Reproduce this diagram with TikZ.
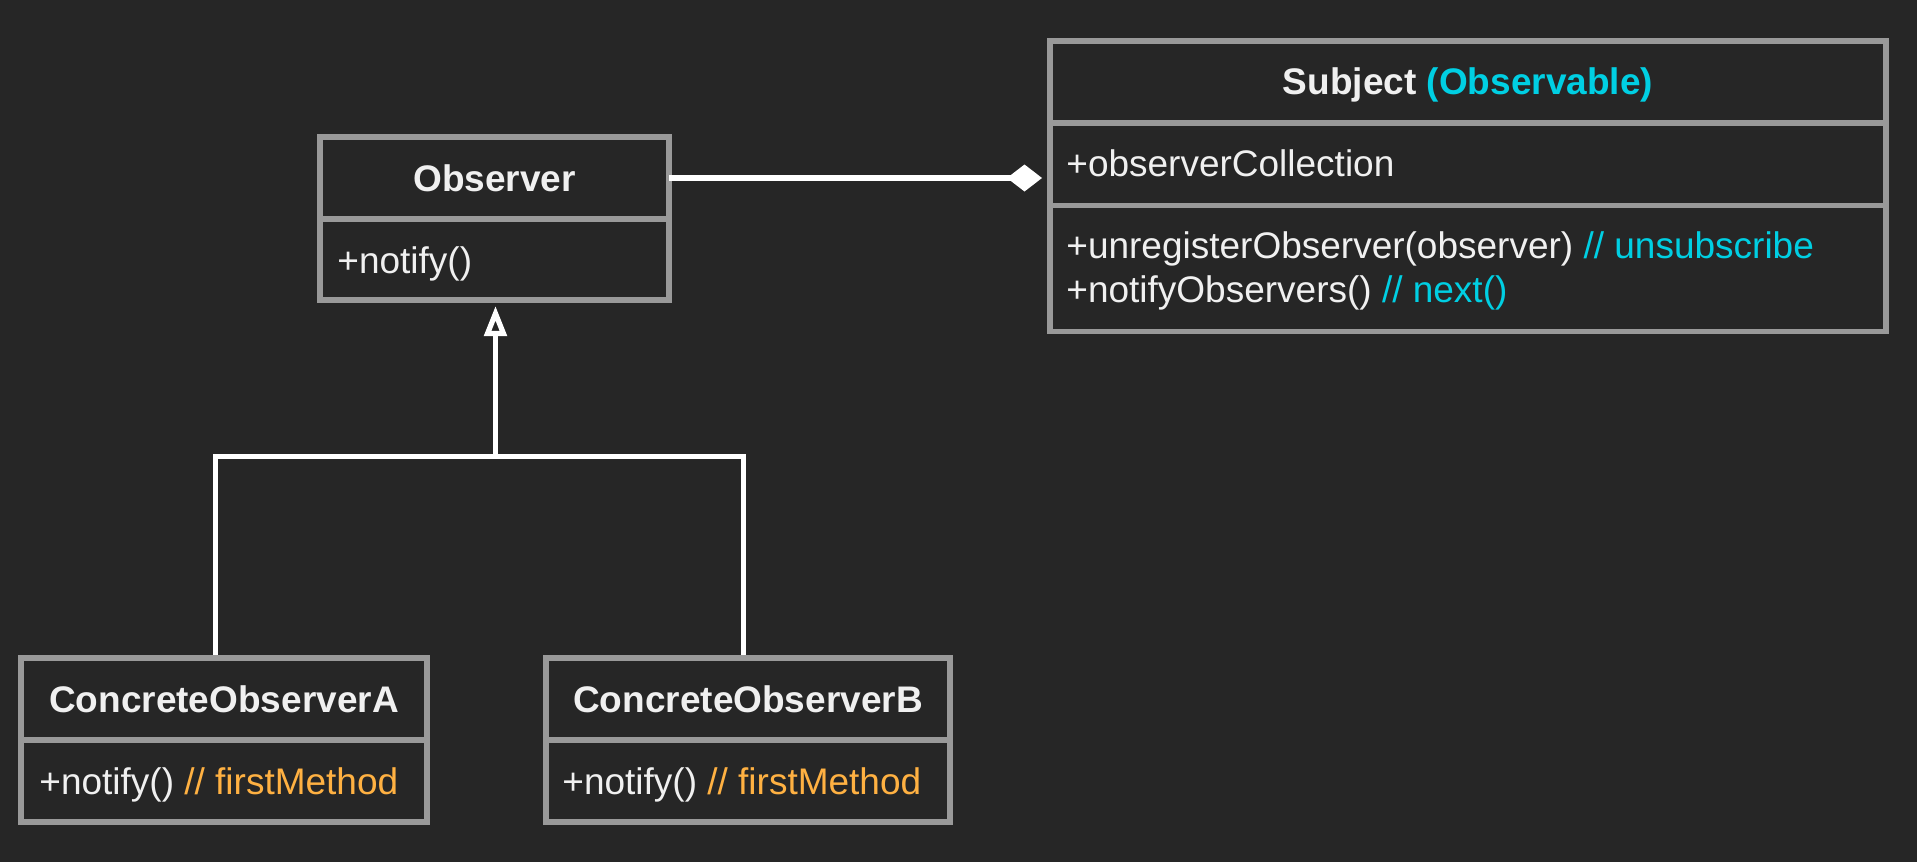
\documentclass[tikz,border=0pt]{standalone}
\usepackage{fontspec}
\setmainfont{Liberation Sans}
\usetikzlibrary{arrows.meta,calc}
\definecolor{bg}{HTML}{262626}
\definecolor{border}{HTML}{999999}
\definecolor{txt}{HTML}{F0F0F0}
\definecolor{cy}{HTML}{00CFE3}
\definecolor{orng}{HTML}{FFB142}
\tikzset{
  comp/.style={draw=border, line width=2.75pt, fill=bg, rectangle, inner sep=0pt, outer sep=0pt},
  ttl/.style={text=txt, font=\fontsize{18.5pt}{22pt}\selectfont\bfseries, inner sep=0pt, anchor=base},
  mem/.style={text=txt, font=\fontsize{18.5pt}{22pt}\selectfont, inner sep=0pt, anchor=base west},
  conn/.style={draw=white, line width=2.6pt},
}
\begin{document}
\begin{tikzpicture}[x=0.5pt,y=-0.5pt]
\useasboundingbox[fill=bg] (0,0) rectangle (1917,862);

% junction coordinates of the generalization tree
\coordinate (j) at (495.5,456.5);
\coordinate (jl) at (215.5,456.5);
\coordinate (jr) at (743.5,456.5);
\coordinate (caTop) at (215.5,655);
\coordinate (cbTop) at (743.5,655);

\draw[conn, line join=miter] (caTop) -- (jl) -- (jr) -- (cbTop);

% Observer
\node[comp, minimum width=174.5pt, minimum height=41pt] (obsT) at (494.5,178) {};
\node[comp, minimum width=174.5pt, minimum height=40.5pt] (obsM) at (494.5,259.5) {};
\node[ttl] (obsTt) at (494.5,191) {Observer};
\node[mem] (obsMt) at (337,273) {+notify()};

% Subject
\node[comp, minimum width=418pt, minimum height=41pt] (subjT) at (1468,82) {};
\node[comp, minimum width=418pt, minimum height=41.25pt] (subjA) at (1468,164.25) {};
\node[comp, minimum width=418pt, minimum height=63pt] (subjM) at (1468,268.5) {};
\node[ttl] (subjTt) at (1468,94) {Subject \textcolor{cy}{(Observable)}};
\node[mem] (subjAt) at (1066,176) {+observerCollection};
\node[mem] (subjM1) at (1066,258.5) {+unregisterObserver(observer) \textcolor{cy}{// unsubscribe}};
\node[mem] (subjM2) at (1066,302) {+notifyObservers() \textcolor{cy}{// next()}};

% ConcreteObserverA
\node[comp, minimum width=203pt, minimum height=41pt] (caT) at (224,699) {};
\node[comp, minimum width=203pt, minimum height=41pt] (caM) at (224,781) {};
\node[ttl] (caTt) at (224,712) {ConcreteObserverA};
\node[mem] (caMt) at (39,794) {+notify() \textcolor{orng}{// firstMethod}};

% ConcreteObserverB
\node[comp, minimum width=202pt, minimum height=41pt] (cbT) at (748,699) {};
\node[comp, minimum width=202pt, minimum height=41pt] (cbM) at (748,781) {};
\node[ttl] (cbTt) at (748,712) {ConcreteObserverB};
\node[mem] (cbMt) at (562,794) {+notify() \textcolor{orng}{// firstMethod}};

% generalization arrow
\draw[conn, -{Triangle[open, length=15pt, width=11pt]}] (j) -- ($(j |- obsM.south)+(0,6)$);

% composition
\draw[conn, -{Diamond[length=17.5pt, width=13.5pt]}] (obsT.east) -- ($(obsT.east -| subjA.west)+(-8,0)$);
\end{tikzpicture}
\end{document}
